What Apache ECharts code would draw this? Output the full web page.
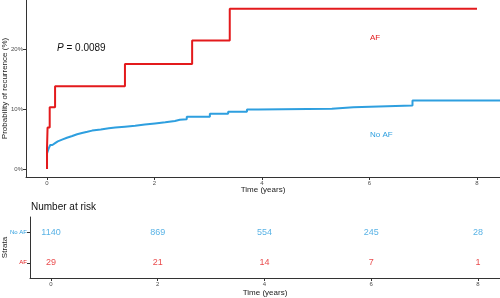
<!DOCTYPE html>
<html>
<head>
<meta charset="utf-8">
<script src="https://cdn.jsdelivr.net/npm/echarts@6/dist/echarts.min.js"></script>
<style>
  html, body { margin: 0; padding: 0; background: #fff; }
  #chart { width: 500px; height: 298px; }
</style>
</head>
<body>
<div id="chart"></div>
<script>
// Kaplan-Meier cumulative recurrence (time in years, probability in %)
const noAfCurve = [
  [0, 0], [0, 2.6], [0.03, 3.4], [0.06, 4.0], [0.1, 4.3], [0.15, 4.6], [0.2, 4.9],
  [0.28, 5.2], [0.37, 5.5], [0.47, 5.8], [0.56, 6.0], [0.65, 6.2], [0.75, 6.4],
  [0.84, 6.6], [1.0, 6.8], [1.15, 6.9], [1.27, 7.05], [1.45, 7.2], [1.64, 7.4],
  [1.82, 7.6], [2.01, 7.8], [2.2, 8.0], [2.38, 8.2], [2.47, 8.3], [2.6, 8.7],
  [3.03, 9.2], [3.37, 9.55], [3.72, 9.9], [3.93, 10.05], [5.3, 10.3], [5.7, 10.6],
  [6.8, 11.4], [8.43, 11.4]
]
const afCurve = [
  [0, 0], [0, 3.4], [0.01, 6.9], [0.05, 10.3], [0.15, 13.8], [1.45, 17.5],
  [2.7, 21.4], [3.4, 26.7], [8.0, 26.7]
]

// number at risk table
const riskTimes = [0, 2, 4, 6, 8]
const strata = ['AF', 'No AF']
const noAfAtRisk = [1140, 869, 554, 245, 28]
const afAtRisk = [29, 21, 14, 7, 1]

const xTicks = [0, 2, 4, 6, 8]
const yTicks = [0, 10, 20]

const RED = '#E31A1C'
const BLUE = '#2E9FDF'

const axisLine = { show: true, onZero: false, lineStyle: { color: '#333', width: 1 } }
const axisTick = { show: true, length: 3, lineStyle: { color: '#333' } }
const tickFont = { color: '#4d4d4d', fontSize: 6, fontFamily: 'Liberation Sans' }
const nameFont = { color: '#222', fontSize: 8, fontFamily: 'Liberation Sans' }

const chart = echarts.init(document.getElementById('chart'))
const options = {
    animation: false,
    textStyle: { fontFamily: 'Liberation Sans' },
    grid: [
        { left: 26, top: 0, width: 474, height: 177, outerBoundsMode: 'none', containLabel: false },
        { left: 30, top: 217, width: 470, height: 61, outerBoundsMode: 'none', containLabel: false }
    ],
    xAxis: [
        {
            type: 'value', gridIndex: 0, min: -0.391, max: 8.428,
            splitLine: { show: false }, axisLine, axisTick: { ...axisTick, customValues: xTicks },
            axisLabel: { ...tickFont, margin: 3, customValues: xTicks },
            name: 'Time (years)', nameLocation: 'middle', nameGap: 9, nameMoveOverlap: false,
            nameTextStyle: nameFont
        },
        {
            type: 'value', gridIndex: 1, min: -0.393, max: 8.412,
            splitLine: { show: false }, axisLine, axisTick: { ...axisTick, customValues: xTicks },
            axisLabel: { ...tickFont, margin: 3, customValues: xTicks },
            name: 'Time (years)', nameLocation: 'middle', nameGap: 11, nameMoveOverlap: false,
            nameTextStyle: nameFont
        }
    ],
    yAxis: [
        {
            type: 'value', gridIndex: 0, min: -1.333, max: 28.17,
            splitLine: { show: false }, axisLine, axisTick: { ...axisTick, customValues: yTicks },
            axisLabel: { ...tickFont, margin: 3, customValues: yTicks, formatter: v => v + '%' },
            name: 'Probability of recurrence (%)', nameLocation: 'middle', nameGap: 17, nameMoveOverlap: false,
            nameTextStyle: nameFont
        },
        {
            type: 'category', gridIndex: 1, data: strata, boundaryGap: true,
            splitLine: { show: false }, axisLine,
            axisTick: { ...axisTick, alignWithLabel: true },
            axisLabel: {
                ...tickFont, margin: 3,
                color: v => (v === 'AF' ? RED : BLUE)
            },
            name: 'Strata', nameLocation: 'middle', nameGap: 21, nameMoveOverlap: false,
            nameTextStyle: nameFont
        }
    ],
    graphic: [
        {
            type: 'text', left: 57, top: 43,
            style: {
                text: '{i|P} = 0.0089',
                fontSize: 10, fill: '#111', fontFamily: 'Liberation Sans',
                rich: { i: { fontStyle: 'italic', fontSize: 10, fill: '#111', fontFamily: 'Liberation Sans' } }
            }
        },
        { type: 'text', left: 370, top: 34, style: { text: 'AF', fontSize: 8, fill: RED, fontFamily: 'Liberation Sans' } },
        { type: 'text', left: 370, top: 131, style: { text: 'No AF', fontSize: 8, fill: BLUE, fontFamily: 'Liberation Sans' } },
        { type: 'text', left: 31, top: 202, style: { text: 'Number at risk', fontSize: 10, fill: '#111', fontFamily: 'Liberation Sans' } }
    ],
    series: [
        {
            name: 'No AF', type: 'line', xAxisIndex: 0, yAxisIndex: 0,
            step: 'end', showSymbol: false, color: BLUE,
            lineStyle: { width: 2 }, data: noAfCurve
        },
        {
            name: 'AF', type: 'line', xAxisIndex: 0, yAxisIndex: 0,
            step: 'end', showSymbol: false, color: RED,
            lineStyle: { width: 2 }, data: afCurve
        },
        {
            name: 'No AF at risk', type: 'scatter', xAxisIndex: 1, yAxisIndex: 1,
            symbolSize: 0,
            label: { show: true, position: 'inside', color: BLUE, fontSize: 9, formatter: p => p.value[2] },
            data: riskTimes.map((t, i) => [t, 'No AF', noAfAtRisk[i]])
        },
        {
            name: 'AF at risk', type: 'scatter', xAxisIndex: 1, yAxisIndex: 1,
            symbolSize: 0,
            label: { show: true, position: 'inside', color: RED, fontSize: 9, formatter: p => p.value[2] },
            data: riskTimes.map((t, i) => [t, 'AF', afAtRisk[i]])
        }
    ]
}
chart.setOption(options)
</script>
</body>
</html>
